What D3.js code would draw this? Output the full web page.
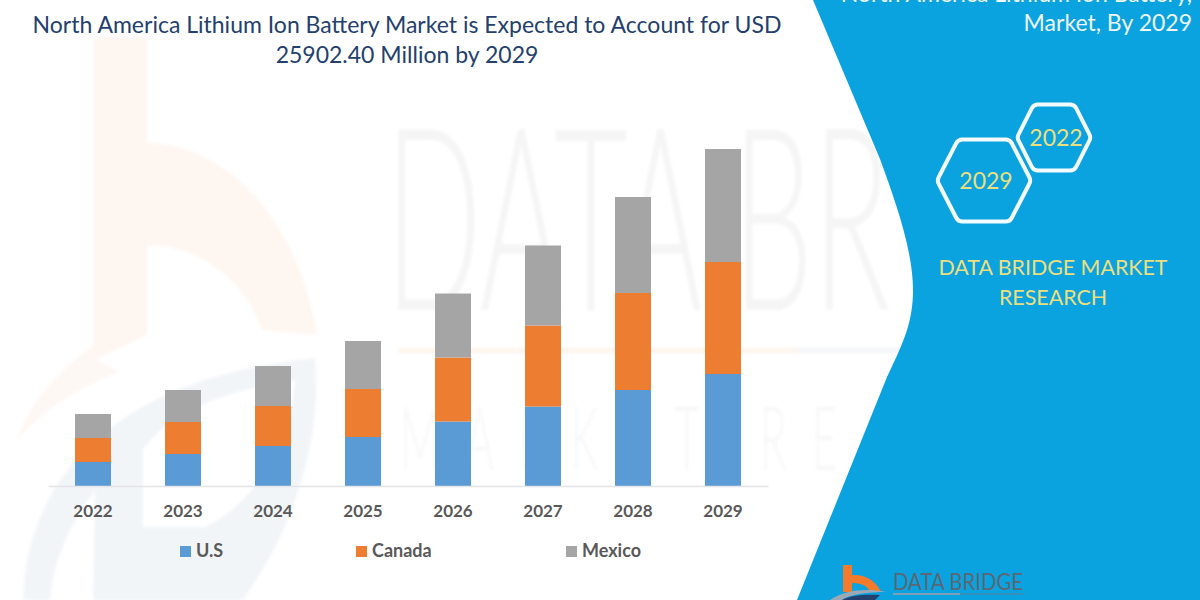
<!DOCTYPE html>
<html>
<head>
<meta charset="UTF-8">
<title>North America Lithium Ion Battery Market</title>
<script src="https://d3js.org/d3.v7.min.js"></script>
<style>
  body { margin: 0; padding: 0; background: #fff; overflow: hidden; }
  text { font-family: Lato, "Open Sans", sans-serif; }
</style>
</head>
<body>
<svg id="chart" width="1200" height="600"></svg>
<script>
// values in USD million (2029 total = 25902.40)
const years = ["2022", "2023", "2024", "2025", "2026", "2027", "2028", "2029"];
const usValues = [1845, 2460, 3074, 3766, 4957, 6110, 7379, 8608];
const canadaValues = [1845, 2460, 3074, 3689, 4919, 6226, 7455, 8608];
const mexicoValues = [1845, 2460, 3074, 3689, 4919, 6149, 7379, 8685];
const seriesNames = ["U.S", "Canada", "Mexico"];
const seriesColors = ["#5b9bd5", "#ed7d31", "#a5a5a5"];
const titleLines = ["North America Lithium Ion Battery Market is Expected to Account for USD", "25902.40 Million by 2029"];
const panelTitle = ["North America Lithium Ion Battery,", "Market, By 2029"];
const panelBrand = ["DATA BRIDGE MARKET", "RESEARCH"];

const svg = d3.select("#chart");
const defs = svg.append("defs");
defs.append("filter").attr("id", "soft").append("feGaussianBlur").attr("stdDeviation", 1.5);

const panelEdge = "M813 0 L880 159 C895 200 913 250 913 290 C913 320 905 340 887 377 L797 600 H1200 V0 Z";

// watermark behind the chart
const wm = svg.append("g").attr("filter", "url(#soft)");
wm.append("path")
  .attr("d", "M94 37 H147 V143 C235 145 300 230 317 335 L262 330 C245 280 200 245 147 245 V335 L94 360 Z")
  .attr("fill", "#fef6f1");
wm.append("path")
  .attr("d", "M94 345 C60 370 30 400 17 440 C40 415 70 390 120 372 L94 358 Z")
  .attr("fill", "#fef8f4");
wm.append("path")
  .attr("fill-rule", "evenodd")
  .attr("d", "M23 600 C25 500 90 380 315 358 C322 430 300 520 243 600 Z M143 527 V450 C170 410 230 390 295 380 C290 440 260 500 205 527 Z M50 600 C55 550 75 520 95 490 L93 600 Z")
  .attr("fill", "#f2f5f8");

// only the part of the faint brand words that shows left of the panel
wm.append("text").attr("x", 385).attr("y", 310).attr("font-size", 255).attr("font-weight", 300)
  .attr("textLength", 505).attr("lengthAdjust", "spacingAndGlyphs")
  .attr("fill", "#f5f5f5").text("DATA BR");
wm.append("text").attr("transform", "translate(400,470) scale(0.5,1)")
  .attr("font-size", 88).attr("font-weight", 300).attr("letter-spacing", 50)
  .attr("fill", "#f7f7f7").text("MARKET RE");
wm.append("rect").attr("x", 398).attr("y", 348).attr("width", 400).attr("height", 5).attr("fill", "#fef4ec");
wm.append("rect").attr("x", 798).attr("y", 348).attr("width", 105).attr("height", 5).attr("fill", "#f4f5f8");

// blue panel on the right
svg.append("path").attr("d", panelEdge).attr("fill", "#0aa2df");

const x = d3.scaleBand().domain(years).range([48, 768]).paddingInner(0.6).paddingOuter(0.3);
const y = d3.scaleLinear().domain([0, 25902.4]).range([486, 149]);

const rows = years.map((yr, i) => ({ year: yr, "U.S": usValues[i], Canada: canadaValues[i], Mexico: mexicoValues[i] }));
const stacked = d3.stack().keys(seriesNames)(rows);

svg.selectAll("g.series").data(stacked).join("g")
  .attr("class", "series")
  .attr("fill", (d, i) => seriesColors[i])
  .selectAll("rect").data(d => d).join("rect")
  .attr("x", d => x(d.data.year))
  .attr("y", d => y(d[1]))
  .attr("width", x.bandwidth())
  .attr("height", d => y(d[0]) - y(d[1]));

// x axis
const xAxis = svg.append("g").attr("transform", "translate(0,486)")
  .call(d3.axisBottom(x).tickSize(0).tickPadding(19));
xAxis.select(".domain").attr("stroke", "#e2e4e8").attr("stroke-width", 1.5);
xAxis.selectAll("text").attr("font-size", 17).attr("font-weight", 700).attr("fill", "#595959")
  .style("font-family", "Lato, sans-serif");

// legend
const legendX = [180, 356, 566];
const legend = svg.selectAll("g.legend").data(seriesNames).join("g")
  .attr("class", "legend")
  .attr("transform", (d, i) => `translate(${legendX[i]},546)`);
legend.append("rect").attr("width", 11).attr("height", 11).attr("fill", (d, i) => seriesColors[i]);
legend.append("text").attr("x", 16).attr("y", 11).attr("font-size", 18).attr("font-weight", 700)
  .attr("fill", "#595959").text(d => d);

// titles
svg.selectAll("text.title").data(titleLines).join("text")
  .attr("class", "title")
  .attr("x", 407).attr("y", (d, i) => 33 + i * 30)
  .attr("text-anchor", "middle").attr("font-size", 23).attr("fill", "#24406e")
  .text(d => d);

svg.selectAll("text.ptitle").data(panelTitle).join("text")
  .attr("class", "ptitle")
  .attr("x", 1192).attr("y", (d, i) => 2 + i * 29)
  .attr("text-anchor", "end").attr("font-size", 23).attr("fill", "#eef8fd")
  .text(d => d);

// hexagon badges with rounded corners
function hexPath(cx, cy, rx, ry) {
  const pts = [[-1, 0], [-0.55, -1], [0.55, -1], [1, 0], [0.55, 1], [-0.55, 1]]
    .map(p => [cx + p[0] * rx, cy + p[1] * ry]);
  const p = d3.path();
  const mid = (a, b) => [(a[0] + b[0]) / 2, (a[1] + b[1]) / 2];
  const start = mid(pts[5], pts[0]);
  p.moveTo(start[0], start[1]);
  pts.forEach((c, i) => {
    const n = pts[(i + 1) % pts.length];
    p.arcTo(c[0], c[1], n[0], n[1], 7);
  });
  p.closePath();
  return p.toString();
}
const badges = [
  { label: "2029", cx: 984, cy: 180.5, rx: 47, ry: 41 },
  { label: "2022", cx: 1054, cy: 137.5, rx: 37, ry: 33 }
];
badges.forEach(b => {
  svg.append("path").attr("d", hexPath(b.cx, b.cy, b.rx, b.ry))
    .attr("fill", "none").attr("stroke", "#f4fbfe").attr("stroke-width", 4);
  svg.append("text").attr("x", b.cx + 2).attr("y", b.cy + 8).attr("text-anchor", "middle")
    .attr("font-size", 23).attr("fill", "#ecdf7e").text(b.label);
});

svg.selectAll("text.brand").data(panelBrand).join("text")
  .attr("class", "brand")
  .attr("x", 1053).attr("y", (d, i) => 275 + i * 30)
  .attr("text-anchor", "middle").attr("font-size", 21.4).attr("fill", "#ecdf7e")
  .text(d => d);

// logo at the bottom of the panel
svg.append("path")
  .attr("d", "M843 565 H852 V575 C866 574 877 582 881 592 L870 591 C866 585 860 583 852 583 V592 H843 Z")
  .attr("fill", "#f47b2b");
svg.append("path")
  .attr("d", "M830 600 C845 590 865 588 886 592 C870 592 850 594 842 600 Z")
  .attr("fill", "#9aa9b5");
svg.append("path")
  .attr("d", "M842 600 C850 595 865 594 880 595 L875 600 Z")
  .attr("fill", "#24406e");
svg.append("text").attr("x", 893).attr("y", 590).attr("font-size", 23)
  .attr("textLength", 130).attr("lengthAdjust", "spacingAndGlyphs")
  .attr("fill", "#5c6773").text("DATA BRIDGE");
svg.append("rect").attr("x", 893).attr("y", 593).attr("width", 67).attr("height", 2).attr("fill", "#7f9fb8");
svg.append("rect").attr("x", 960).attr("y", 593.5).attr("width", 63).attr("height", 1).attr("fill", "#5c7f9c");
</script>
</body>
</html>
